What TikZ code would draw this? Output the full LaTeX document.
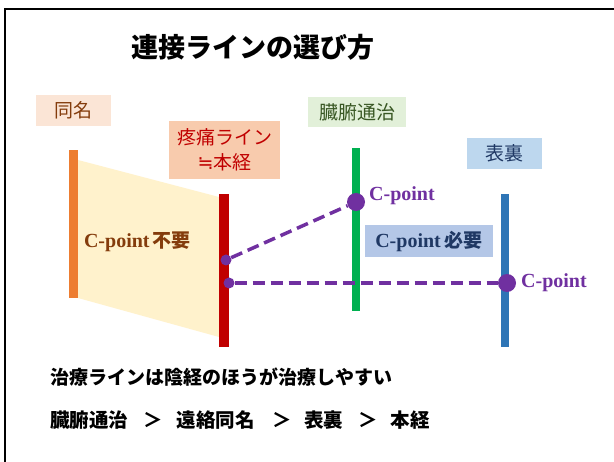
\documentclass[tikz,border=0pt]{standalone}
\usepackage{fontspec}
\newfontfamily\jp{Noto Sans CJK JP}
\newfontfamily\tms{Liberation Serif}
\newfontfamily\djv{DejaVu Sans}
\definecolor{cpurple}{HTML}{7030A0}
\definecolor{corange}{HTML}{ED7D31}
\definecolor{cred}{HTML}{C00000}
\definecolor{cgreen}{HTML}{00B050}
\definecolor{cblue}{HTML}{2E75B6}
\definecolor{cyellow}{HTML}{FFF2CC}
\definecolor{cpeach}{HTML}{FBE5D6}
\definecolor{csalmon}{HTML}{F8CBAD}
\definecolor{clgreen}{HTML}{E2F0D9}
\definecolor{clblue}{HTML}{BDD7EE}
\definecolor{cmblue}{HTML}{B4C7E7}
\definecolor{cbrown}{HTML}{843C0C}
\definecolor{cdgreen}{HTML}{385723}
\definecolor{cnavy}{HTML}{1F3864}
\begin{document}
\begin{tikzpicture}[x=1pt,y=-1pt,
  lbl/.style={rectangle, inner sep=0pt, font=\jp\fontsize{19}{25}\selectfont, align=center},
  bar/.style={rectangle, inner sep=0pt, minimum width=9pt},
  dotsm/.style={circle, fill=cpurple, inner sep=0pt, minimum size=11pt},
  dotbg/.style={circle, fill=cpurple, inner sep=0pt, minimum size=18pt},
  conn/.style={cpurple, line width=3.5pt, dash pattern=on 12pt off 6pt},
  cpt/.style={font=\tms\bfseries\fontsize{20}{24}\selectfont, text=cpurple, anchor=west, inner sep=0pt}]
\useasboundingbox (0,0) rectangle (614,462);
\fill[white] (0,0) rectangle (614,462);
% frame
\draw[line width=2pt] (614,9) -- (5,9) -- (5,462);
% title
\node[font=\jp\bfseries\fontsize{27}{30}\selectfont] (title) at (253,47) {連接ラインの選び方};
% trapezoid
\fill[cyellow] (78,160) -- (219,197) -- (219,337) -- (78,298) -- cycle;
% bars
\node[bar, fill=corange, minimum height=148pt] (bo) at (73.5,224) {};
\node[bar, fill=cred, minimum height=153pt, minimum width=10pt] (br) at (224,270.5) {};
\node[bar, fill=cgreen, minimum height=163pt, minimum width=8pt] (bg) at (356,229.5) {};
\node[bar, fill=cblue, minimum height=153pt, minimum width=8pt] (bb) at (505,270.5) {};
% label boxes
\node[lbl, fill=cpeach, text=cbrown, minimum width=75pt, minimum height=31pt] (l1) at (73.5,110.5) {同名};
\node[lbl, fill=csalmon, text=cred, minimum width=111pt, minimum height=58pt] (l2) at (224.5,150) {疼痛ライン\\{\djv ≒}本経};
\node[lbl, fill=clgreen, text=cdgreen, minimum width=98pt, minimum height=30pt] (l3) at (357,112) {臓腑通治};
\node[lbl, fill=clblue, text=cnavy, minimum width=75pt, minimum height=31pt] (l4) at (504.5,153.5) {表裏};
\node[lbl, fill=cmblue, text=cnavy, minimum width=128pt, minimum height=32pt, font=\bfseries] (l5) at (429,241) {{\tms\fontsize{20}{24}\selectfont C-point} {\jp\bfseries\fontsize{19}{24}\selectfont 必要}};
\node[text=cbrown, inner sep=0pt] (fuyo) at (137.5,242) {{\tms\bfseries\fontsize{20}{24}\selectfont C-point} {\jp\bfseries\fontsize{19}{24}\selectfont 不要}};
% dots
\node[dotsm] (d1) at (226,260) {};
\node[dotsm] (d2) at (229,283) {};
\node[dotbg] (d3) at (356,202) {};
\node[dotbg] (d4) at (507,283) {};
% connectors
\draw[conn] (d1) -- (d3);
\draw[conn] (d2) -- (d4);
% C-point labels
\node[cpt] (c1) at (369,196) {C-point};
\node[cpt] (c2) at (521,283) {C-point};
% bottom text
\node[font=\jp\bfseries\fontsize{19}{22}\selectfont, anchor=west, inner sep=0pt] (t1) at (50,377) {治療ラインは陰経のほうが治療しやすい};
\node[font=\jp\bfseries\fontsize{19.5}{22}\selectfont, anchor=west, inner sep=0pt] (t2) at (50,420) {臓腑通治\hspace{15pt}＞\hspace{14pt}遠絡同名\hspace{18pt}＞\hspace{12pt}表裏\hspace{15pt}＞\hspace{13pt}本経};
\end{tikzpicture}
\end{document}
